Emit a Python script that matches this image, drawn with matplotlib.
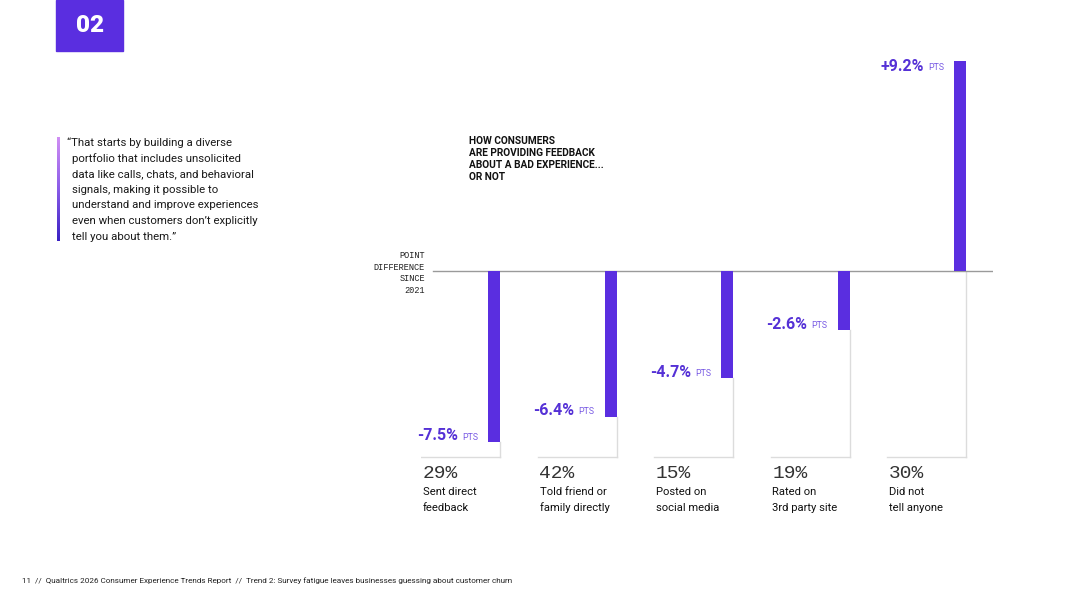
import matplotlib

matplotlib.use("Agg")
import matplotlib.pyplot as plt
import numpy as np
from matplotlib.colors import LinearSegmentedColormap
from matplotlib.transforms import blended_transform_factory


W, H = 1080, 608
PURPLE = "#5a2ee0"
LABEL_PURPLE = "#5531d6"
PTS_PURPLE = "#7a5ce4"
GRID_GRAY = "#dcdcdc"

# data
shares = ["29%", "42%", "15%", "19%", "30%"]
categories = ["Sent direct\nfeedback", "Told friend or\nfamily directly",
              "Posted on\nsocial media", "Rated on\n3rd party site",
              "Did not\ntell anyone"]
point_change = [-7.5, -6.4, -4.7, -2.6, 9.2]
value_labels = ["-7.5%", "-6.4%", "-4.7%", "-2.6%", "+9.2%"]

title_lines = ["HOW CONSUMERS", "ARE PROVIDING FEEDBACK",
               "ABOUT A BAD EXPERIENCE...", "OR NOT"]
ylabel_lines = ["POINT", "DIFFERENCE", "SINCE", "2021"]
quote_lines = ["\u201cThat starts by building a diverse",
               "portfolio that includes unsolicited",
               "data like calls, chats, and behavioral",
               "signals, making it possible to",
               "understand and improve experiences",
               "even when customers don\u2019t explicitly",
               "tell you about them.\u201d"]
footer = ("11  //  Qualtrics 2026 Consumer Experience Trends Report  //  "
          "Trend 2: Survey fatigue leaves businesses guessing about customer churn")

SANS = ["Roboto", "DejaVu Sans"]
MONO = ["Liberation Mono", "DejaVu Sans Mono"]


def fx(x):
    return x / W


def fy(y):
    return 1 - y / H


fig = plt.figure(figsize=(W / 100, H / 100), dpi=100)
fig.patch.set_facecolor("white")

# chart axes, one x unit = one column (116.5 px)
col_px = 116.5
px_per_pt = 22.8
ax_left, ax_right, ax_top, ax_bottom = 421, 993, 40, 470
zero_y = 271
ax = fig.add_axes([fx(ax_left), fy(ax_bottom), (ax_right - ax_left) / W,
                   (ax_bottom - ax_top) / H])
ax.set_xlim(0, (ax_right - ax_left) / col_px)
ax.set_ylim(-(ax_bottom - zero_y) / px_per_pt, (zero_y - ax_top) / px_per_pt)
ax.axis("off")

bar_w = 12 / col_px
bar_right = 79 / col_px
floor = -(457 - zero_y) / px_per_pt
x = np.arange(len(point_change))
centers = x + bar_right - bar_w / 2

for i in x:
    v = point_change[i]
    ax.plot([i + bar_right] * 2, [min(v, 0), floor], color=GRID_GRAY, lw=1, zorder=1)
    ax.plot([i, i + bar_right], [floor, floor], color=GRID_GRAY, lw=1, zorder=1)

ax.bar(centers, point_change, width=bar_w, color=PURPLE, zorder=3)
ax.plot([12 / col_px, ax.get_xlim()[1]], [0, 0], color="#9a9a9a", lw=1, zorder=2)

for i, v in enumerate(point_change):
    bx = centers[i] - bar_w / 2
    dy = 5 if v < 0 else -6
    ax.annotate("PTS", (bx, v), xytext=(-10, dy), textcoords="offset pixels",
                ha="right", va="center", fontsize=6.3, color=PTS_PURPLE,
                family=SANS)
    ax.annotate(value_labels[i], (bx, v), xytext=(-30, dy + 1),
                textcoords="offset pixels", ha="right", va="center",
                fontsize=11.5, fontweight="bold", color=LABEL_PURPLE, family=SANS)

tr = blended_transform_factory(ax.transData, fig.transFigure)
for i in x:
    ax.text(i + 2 / col_px, fy(473), shares[i], transform=tr, ha="left",
            va="center", fontsize=14, color="#333333", family=MONO)
    for j, line in enumerate(categories[i].split("\n")):
        ax.text(i + 2 / col_px, fy(492 + 16 * j), line, transform=tr,
                ha="left", va="center", fontsize=8.1, color="#111111",
                family=SANS)

for j, line in enumerate(ylabel_lines):
    fig.text(fx(425), fy(256 + 11.5 * j), line, ha="right", va="center",
             fontsize=6.2, color="#222222", family=MONO)

for j, line in enumerate(title_lines):
    fig.text(fx(469), fy(141 + 12 * j), line, ha="left", va="center",
             fontsize=7.3, fontweight="bold", color="#111111", family=SANS)

# section badge
fig.patches.append(plt.Rectangle((fx(56), fy(51)), fx(67), 51 / H,
                                 transform=fig.transFigure, color=PURPLE,
                                 zorder=0))
fig.text(fx(90), fy(25), "02", ha="center", va="center", fontsize=17.5,
         fontweight="heavy", color="white", family=SANS)

# quote with gradient rule
grad_ax = fig.add_axes([fx(57), fy(241), 3 / W, 104 / H])
cmap = LinearSegmentedColormap.from_list("q", ["#d08ef4", "#8a5ce8", "#3a22c4"])
grad_ax.imshow(np.linspace(0, 1, 100).reshape(-1, 1), aspect="auto", cmap=cmap)
grad_ax.axis("off")

for j, line in enumerate(quote_lines):
    fig.text(fx(67 if j == 0 else 72), fy(143 + 15.6 * j), line, ha="left",
             va="center", fontsize=8.2, color="#1a1a1a", family=SANS)

fig.text(fx(22), fy(581), footer, ha="left", va="center", fontsize=5.85,
         color="#222222", family=SANS)

fig.savefig("out.png", dpi=100)
